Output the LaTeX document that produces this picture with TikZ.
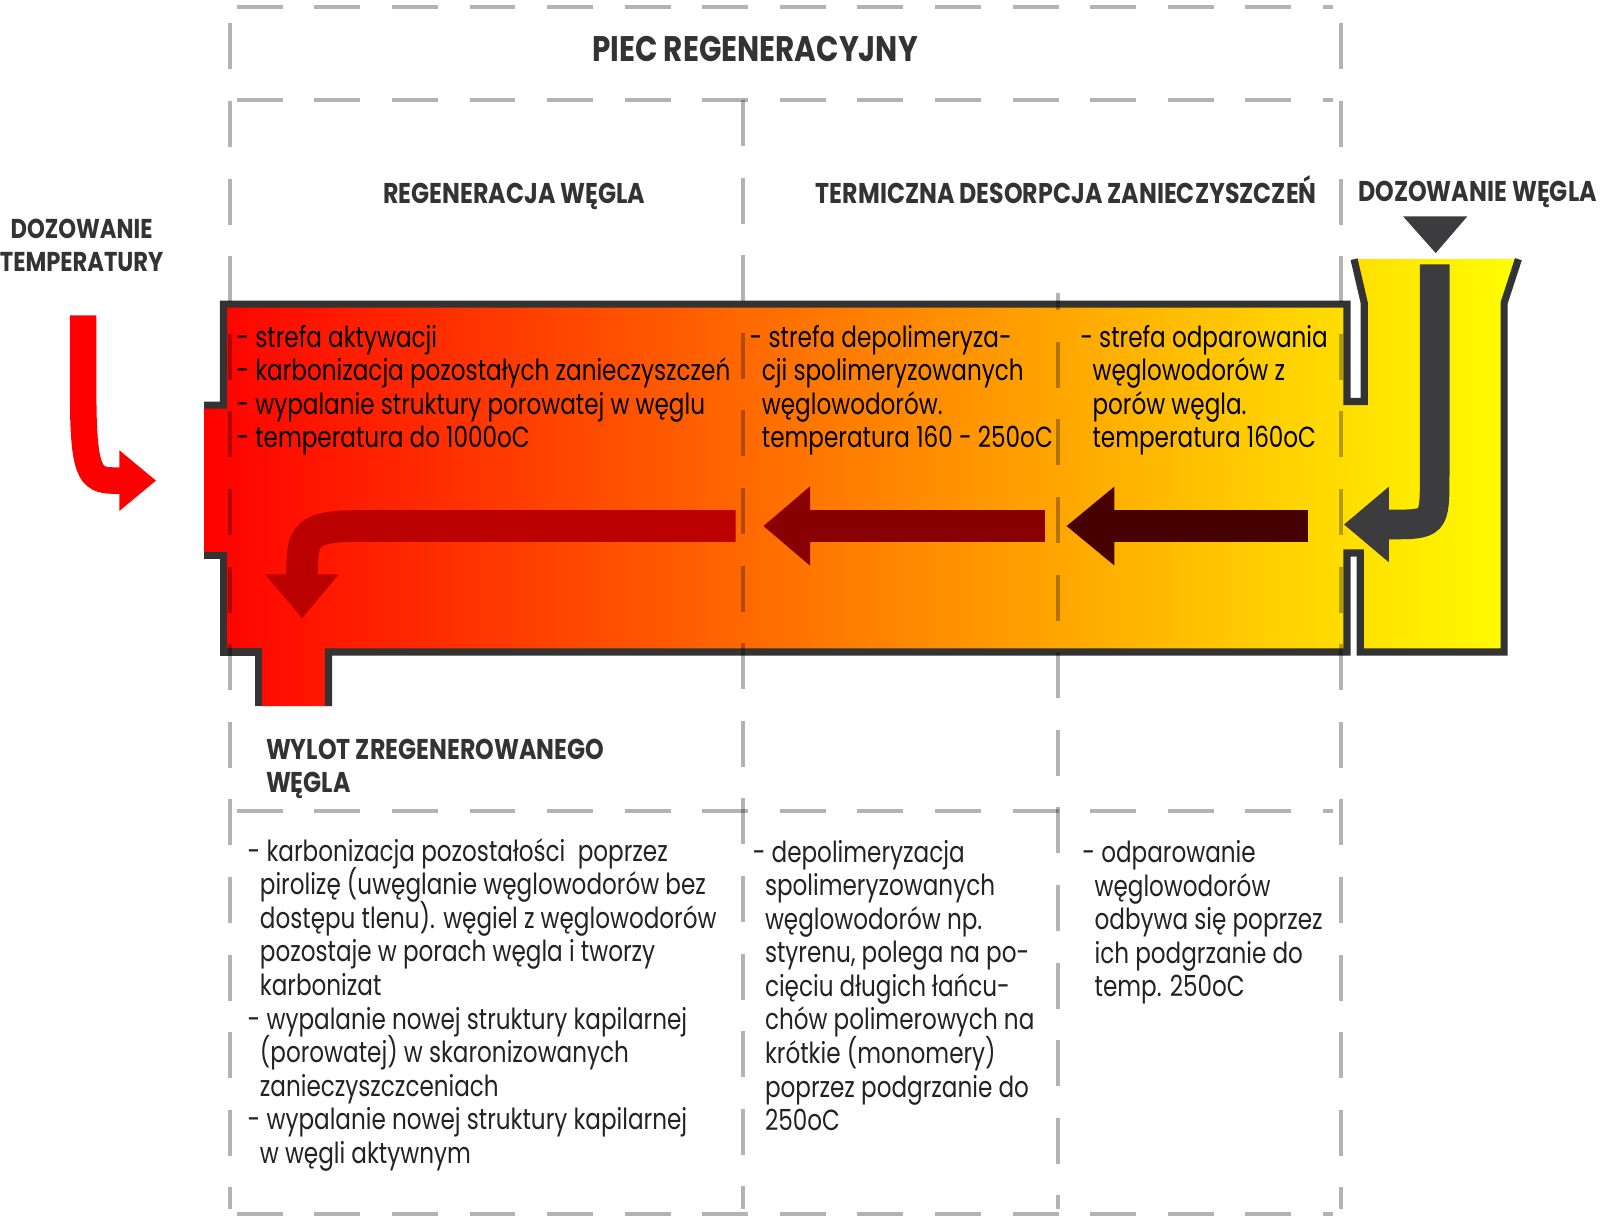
\documentclass[tikz,border=0pt]{standalone}
\usepackage{fontspec}
\setmainfont{Poppins}[FakeStretch=0.795]
\newfontfamily\headfont{Poppins}[FakeStretch=0.83]
\usetikzlibrary{arrows.meta}
\definecolor{wall}{HTML}{333333}
\definecolor{gridgrey}{HTML}{B3B3B3}
\definecolor{hot}{HTML}{BB0000}
\definecolor{warm}{HTML}{880000}
\definecolor{cool}{HTML}{470000}
\definecolor{coal}{HTML}{3C3C3E}
\definecolor{ink}{HTML}{222222}
\newcommand\indt{\hspace*{0.12cm}}
\lineskiplimit=-100pt
\begin{document}
\begin{tikzpicture}[x=0.01cm,y=-0.01cm,
  gridline/.style={gridgrey,line width=1.1pt,dash pattern=on 0.45cm off 0.31cm},
  wallline/.style={wall,line width=0.07cm,line join=miter},
  head/.style={text=wall,font=\headfont\bfseries\fontsize{7.97}{9.4}\selectfont,inner sep=0},
  body/.style={align=left,anchor=base west,inner sep=0,font=\fontsize{8.1}{9.35}\selectfont},
  flow/.style={line width=0.31cm}]
\useasboundingbox (0,0) rectangle (1568,1199);
\shade[left color=red,right color=yellow] (219,298) -- (1320,298) -- (1320,393.5) -- (1337,393.5) -- (1337,297) -- (1327,254) -- (1488,254) -- (1474,297) -- (1474,639) -- (1333,639) -- (1333,542) -- (1320,542) -- (1320,639) -- (322,639) -- (322,692) -- (253,692) -- (253,639) -- (219,639) -- (219,544) -- (200,544) -- (200,397) -- (219,397) -- cycle;
\draw[wallline] (200,397) -- (219,397) -- (219,298) -- (1320,298) -- (1320,393.5) -- (1337,393.5) -- (1337,297) -- (1327,254);
\draw[wallline] (1488,254) -- (1474,297) -- (1474,639) -- (1333,639) -- (1333,542) -- (1320,542) -- (1320,639) -- (322,639) -- (322,692);
\draw[wallline] (253,692) -- (253,639) -- (219,639) -- (219,544) -- (200,544);
\begin{scope}[blend mode=multiply]
\foreach \gx/\gy in {225/23,728/98,1314/23} \draw[gridline] (\gx,\gy) -- (\gx,1185);
\draw[gridline,dash phase=0.28cm] (1037,287) -- (1037,1185);
\foreach \gy in {7,98,795,1190} \draw[gridline] (232,\gy) -- (1306,\gy);
\end{scope}
\draw[flow,hot,-{Triangle[length=0.43cm,width=0.69cm]}] (721,515.5) -- (350,515.5) .. controls (300,515.5) and (296,525) .. (296,560) -- (296,606);
\draw[flow,warm,-{Triangle[length=0.46cm,width=0.75cm]}] (1024,515.5) -- (748,515.5);
\draw[flow,cool,-{Triangle[length=0.47cm,width=0.74cm]}] (1282,515.5) -- (1045,515.5);
\draw[coal,line width=0.29cm,-{Triangle[length=0.44cm,width=0.71cm]}] (1406,259) -- (1406,465) .. controls (1406,514) .. (1361,514) -- (1317,514);
\draw[red,line width=0.26cm,-{Triangle[length=0.36cm,width=0.57cm]}] (81.5,309) -- (81.5,385) .. controls (81.5,471) and (90,471) .. (117,471) -- (153,471);
\fill[coal] (1375,212) -- (1438,212) -- (1407,248) -- cycle;
\node[head,font=\headfont\bfseries\fontsize{9.9}{11}\selectfont,anchor=base] (piec) at (740,60.5) {PIEC REGENERACYJNY};
\node[head,anchor=base] (regen) at (504,199) {REGENERACJA WĘGLA};
\node[head,anchor=base] (desorp) at (1045,199) {TERMICZNA DESORPCJA ZANIECZYSZCZEŃ};
\node[head,anchor=base] (dozw) at (1448,197.5) {DOZOWANIE WĘGLA};
\node[head,font=\headfont\bfseries\fontsize{7.6}{9.4}\selectfont,align=center,anchor=base] (dozt) at (80,266.5) {DOZOWANIE\\TEMPERATURY};
\node[head,align=left,anchor=base west] (wylot) at (260,777) {WYLOT ZREGENEROWANEGO\\WĘGLA};
\node[body] (strefa1) at (231,439) {- strefa aktywacji\\- karbonizacja pozostałych zanieczyszczeń\\- wypalanie struktury porowatej w węglu\\- temperatura do 1000oC};
\node[body] (strefa2) at (734,439) {- strefa depolimeryza-\\\indt cji spolimeryzowanych\\\indt węglowodorów.\\\indt temperatura 160 - 250oC};
\node[body] (strefa3) at (1058,439) {- strefa odparowania\\\indt węglowodorów z\\\indt porów węgla.\\\indt temperatura 160oC};
\node[body,text=ink] (opis1) at (242,1140) {- karbonizacja pozostałości\ \ poprzez\\\indt pirolizę (uwęglanie węglowodorów bez\\\indt dostępu tlenu). węgiel z węglowodorów\\\indt pozostaje w porach węgla i tworzy\\\indt karbonizat\\- wypalanie nowej struktury kapilarnej\\\indt (porowatej) w skaronizowanych\\\indt zanieczyszczceniach\\- wypalanie nowej struktury kapilarnej\\\indt w węgli aktywnym};
\node[body,text=ink] (opis2) at (737,1108) {- depolimeryzacja\\\indt spolimeryzowanych\\\indt węglowodorów np.\\\indt styrenu, polega na po-\\\indt cięciu długich łańcu-\\\indt chów polimerowych na\\\indt krótkie (monomery)\\\indt poprzez podgrzanie do\\\indt 250oC};
\node[body,text=ink] (opis3) at (1060,977) {- odparowanie\\\indt węglowodorów\\\indt odbywa się poprzez\\\indt ich podgrzanie do\\\indt temp. 250oC};
\end{tikzpicture}
\end{document}
